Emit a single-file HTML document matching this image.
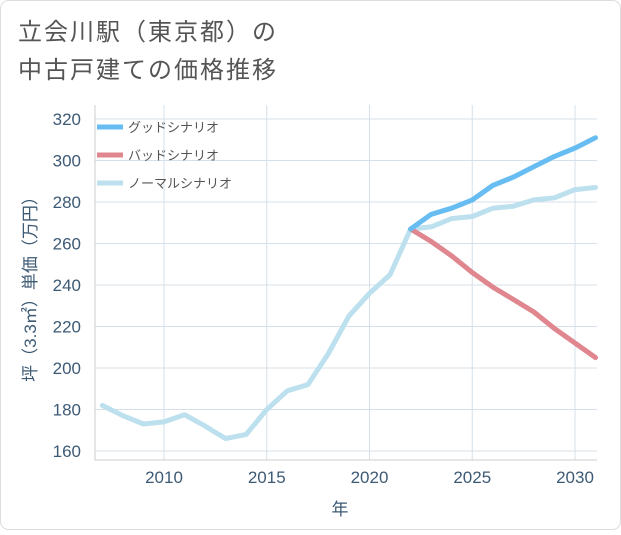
<!DOCTYPE html>
<html><head><meta charset="utf-8"><style>
body{margin:0;background:#fff;}
svg text{font-family:"Liberation Sans","Noto Sans CJK JP",sans-serif;}
</style></head><body>
<svg id="chart" width="621" height="530" xmlns="http://www.w3.org/2000/svg">
<rect x="0.5" y="0.5" width="620" height="529" rx="8" fill="#fff" stroke="#ddd"/>
<text x="18" y="40" font-size="24" letter-spacing="2" fill="#555">立会川駅（東京都）の</text>
<text x="18" y="78" font-size="24" letter-spacing="2" fill="#555">中古戸建ての価格推移</text>
<g id="grid"></g><g id="axes"></g><g id="series"></g><g id="legend"></g>
<text x="340" y="515" font-size="17" fill="#3d5a75" text-anchor="middle">年</text>
<text transform="translate(36,285) rotate(-90)" font-size="17" fill="#3d5a75" text-anchor="middle">坪（3.3㎡）単価（万円）</text>
</svg>
<script>
const years=[2007,2008,2009,2010,2011,2012,2013,2014,2015,2016,2017,2018,2019,2020,2021,2022,2023,2024,2025,2026,2027,2028,2029,2030,2031];
const normalValues=[182,177,173,174,177.5,172,166,168,180,189,192,207,225,236,245,267,268,272,273,277,278,281,282,286,287];
const futureYears=[2022,2023,2024,2025,2026,2027,2028,2029,2030,2031];
const goodValues=[267,274,277,281,288,292,297,302,306,311];
const badValues=[267,261,254,246,239,233,227,219,212,205];
const yTicks=[160,180,200,220,240,260,280,300,320];
const xTicks=[2010,2015,2020,2025,2030];
const L=95,R=597,T=105,B=460;
const x=v=>164+(v-2010)*(575-164)/20;
const y=v=>451-(v-160)*(451-119)/160;
const NS="http://www.w3.org/2000/svg";
function mk(tag,attrs,parent){const e=document.createElementNS(NS,tag);for(const k in attrs)e.setAttribute(k,attrs[k]);parent.appendChild(e);return e;}
const grid=document.getElementById('grid'),axes=document.getElementById('axes'),series=document.getElementById('series'),legend=document.getElementById('legend');
yTicks.forEach(t=>{
 const l=mk('line',{x1:L,x2:R,y1:y(t),y2:y(t),stroke:'#d5e0ea','stroke-width':1},grid);
 
 
 const tx=mk('text',{x:L-14,y:y(t)+6,'font-size':17,fill:'#3d5a75','text-anchor':'end'},axes);
 tx.textContent=t;
 
 
});
xTicks.forEach(t=>{
 const l=mk('line',{x1:x(t),x2:x(t),y1:T,y2:B,stroke:'#d5e0ea','stroke-width':1},grid);
 
 
 const tx=mk('text',{x:x(t),y:B+23,'font-size':17,fill:'#3d5a75','text-anchor':'middle'},axes);
 tx.textContent=t;
 
 
});
const ax=mk('path',{d:`M${L} ${T}V${B}H${R}`,fill:'none',stroke:'#ccc'},axes);


function line(xs,vs,color,name){
 const d=xs.map((v,i)=>(i?'L':'M')+x(v).toFixed(1)+' '+y(vs[i]).toFixed(1)).join('');
 const p=mk('path',{d:d,fill:'none',stroke:color,'stroke-width':5,'stroke-linejoin':'round','stroke-linecap':'round'},series);
 
 
}
line(years,normalValues,'#bde0ee','normal-scenario-line');
line(futureYears,badValues,'#e0868e','bad-scenario-line');
line(futureYears,goodValues,'#67bdf2','good-scenario-line');
const leg=[['グッドシナリオ','#67bdf2'],['バッドシナリオ','#e0868e'],['ノーマルシナリオ','#bde0ee']];
leg.forEach((e,i)=>{
 const g=mk('g',{},legend);
 
 
 mk('line',{x1:97,x2:123,y1:127+i*28,y2:127+i*28,stroke:e[1],'stroke-width':5},g);
 const t=mk('text',{x:128,y:132+i*28,'font-size':13,fill:'#555'},g);
 t.textContent=e[0];
});
</script>
</body></html>
